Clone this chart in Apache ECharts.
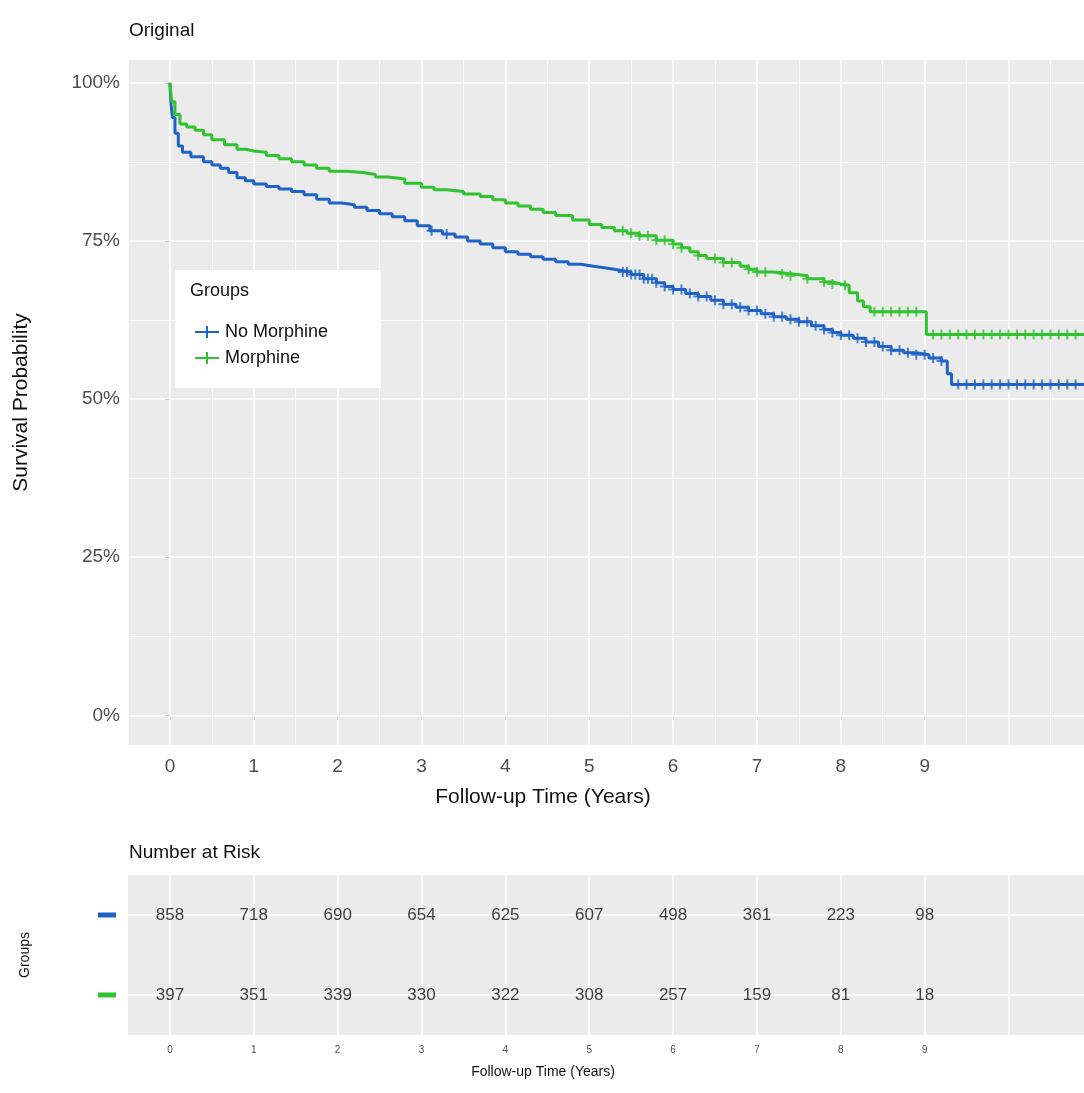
<!DOCTYPE html>
<html>
<head>
<meta charset="utf-8">
<title>Survival</title>
<script src="https://cdn.jsdelivr.net/npm/echarts@6/dist/echarts.min.js"></script>
<style>html,body{margin:0;background:#fff}#chart{width:1084px;height:1093px}</style>
</head>
<body>
<div id="chart"></div>
<script>
// step points: [years, survival %]
var noMorphine = [[0,100],[0.01,97],[0.03,94.5],[0.06,92],[0.1,90],[0.15,89],[0.25,88.3],[0.4,87.5],[0.5,87],[0.6,86.5],[0.7,85.8],[0.8,85],[0.9,84.5],[1,84],[1.15,83.6],[1.3,83.2],[1.45,82.8],[1.6,82.3],[1.75,81.6],[1.9,81],[2.05,80.7],[2.2,80.3],[2.35,79.8],[2.5,79.3],[2.65,78.8],[2.8,78.2],[2.95,77.4],[3.1,76.6],[3.25,76.1],[3.4,75.6],[3.55,75],[3.7,74.5],[3.85,73.9],[4,73.3],[4.15,72.9],[4.3,72.5],[4.45,72.1],[4.6,71.7],[4.75,71.3],[4.9,71],[5.05,70.7],[5.2,70.4],[5.35,70.1],[5.5,69.7],[5.65,69],[5.8,68.4],[5.9,67.8],[6,67.3],[6.15,66.7],[6.3,66.2],[6.45,65.6],[6.6,65],[6.75,64.5],[6.9,64],[7.05,63.5],[7.2,63],[7.35,62.6],[7.5,62.2],[7.65,61.6],[7.8,61],[7.9,60.5],[8,60.1],[8.15,59.6],[8.3,59],[8.45,58.3],[8.6,57.7],[8.75,57.3],[8.9,57],[9.05,56.5],[9.2,56],[9.27,54],[9.32,52.3]];
var morphine = [[0,100],[0.02,97],[0.06,95],[0.12,93.5],[0.2,93],[0.3,92.5],[0.4,91.8],[0.5,91],[0.65,90.2],[0.8,89.5],[0.9,89.2],[1,89],[1.15,88.5],[1.3,88],[1.45,87.5],[1.6,87],[1.75,86.5],[1.9,86],[2.1,85.8],[2.3,85.5],[2.45,85.1],[2.6,84.8],[2.8,84.1],[3,83.5],[3.15,83.1],[3.3,82.8],[3.5,82.4],[3.7,82],[3.85,81.5],[4,81],[4.15,80.5],[4.3,80],[4.45,79.5],[4.6,79],[4.8,78.3],[5,77.6],[5.15,77.1],[5.3,76.6],[5.45,76.2],[5.6,75.8],[5.8,75.1],[6,74.5],[6.1,73.9],[6.2,73.3],[6.3,72.7],[6.4,72.2],[6.6,71.6],[6.8,71],[6.9,70.5],[7,70.1],[7.2,69.8],[7.4,69.5],[7.6,69],[7.8,68.5],[7.9,68.2],[8,68],[8.1,66.8],[8.2,65.5],[8.27,64.6],[8.35,63.8],[9.02,60.2]];
var noMorphineCensor = [3.12,3.3,5.4,5.45,5.5,5.55,5.6,5.65,5.7,5.75,5.8,5.9,6,6.1,6.2,6.3,6.4,6.5,6.6,6.7,6.8,6.9,7,7.1,7.2,7.3,7.4,7.5,7.6,7.7,7.8,7.9,8,8.1,8.2,8.3,8.4,8.5,8.6,8.7,8.8,8.9,9,9.1,9.2,9.4,9.5,9.6,9.7,9.8,9.9,10,10.1,10.2,10.3,10.4,10.5,10.6,10.7,10.8];
var morphineCensor = [5.4,5.5,5.6,5.7,5.8,5.9,6,6.1,6.3,6.5,6.6,6.7,6.9,7,7.1,7.3,7.4,7.6,7.8,7.9,8.05,8.4,8.5,8.6,8.7,8.8,8.9,9.1,9.2,9.3,9.4,9.5,9.6,9.7,9.8,9.9,10,10.1,10.2,10.3,10.4,10.5,10.6,10.7,10.8];
var riskTimes = [0,1,2,3,4,5,6,7,8,9];
var noMorphineRisk = [858,718,690,654,625,607,498,361,223,98];
var morphineRisk = [397,351,339,330,322,308,257,159,81,18];
var yTicks = [0,25,50,75,100];

var blue = '#1f63c6', green = '#2fc32f';
var xMax = 10.9;
function stepAt(pts, t) {
  var v = pts[0][1];
  for (var i = 0; i < pts.length; i++) if (pts[i][0] <= t) v = pts[i][1];
  return v;
}
function extend(pts) { return pts.concat([[xMax, pts[pts.length - 1][1]]]); }
var plus = 'path://M4,0h2v4h4v2h-4v4h-2v-4h-4v-2h4z';
var xs = [], xsMinor = [];
for (var i = 0; i <= 10; i++) xs.push({xAxis: i});
for (var j = -0.5; j <= 10.5; j += 1) xsMinor.push({xAxis: j});
var ysMajor = yTicks.map(function (v) { return {yAxis: v}; });
var ysMinor = [12.5, 37.5, 62.5, 87.5].map(function (v) { return {yAxis: v}; });

var chart = echarts.init(document.getElementById('chart'));
function gridLines(xi, yi, ml, lw) {
  return {type: 'line', xAxisIndex: xi, yAxisIndex: yi, data: [], silent: true, zlevel: 0,
    markLine: {silent: true, symbol: 'none', label: {show: false}, animation: false,
      lineStyle: {color: '#fff', type: 'solid', width: lw}, data: ml}};
}
var riskLabel = {show: true, position: 'inside', formatter: function (p) { return p.value[2]; }, fontSize: 17, color: '#111', fontFamily: 'Liberation Sans'};
chart.setOption({
  animation: false,
  title: [
    {text: 'Original', left: 124, top: 16, textStyle: {fontSize: 19, fontWeight: 'normal', color: '#111', fontFamily: 'Liberation Sans'}},
    {text: 'Number at Risk', left: 124, top: 838, textStyle: {fontSize: 19, fontWeight: 'normal', color: '#111', fontFamily: 'Liberation Sans'}}
  ],
  grid: [
    {left: 128, right: 0, top: 60, height: 685, backgroundColor: '#ebebeb', show: true, borderWidth: 0},
    {left: 128, right: 0, top: 875, height: 160, backgroundColor: '#ebebeb', show: true, borderWidth: 0}
  ],
  xAxis: [
    {gridIndex: 0, type: 'value', min: -0.5, max: xMax, name: 'Follow-up Time (Years)', nameLocation: 'middle', nameGap: 42,
      nameTextStyle: {fontSize: 21, color: '#111', fontFamily: 'Liberation Sans', padding: [0, 126, 0, 0]},
      axisLine: {show: false}, splitLine: {show: false},
      axisTick: {customValues: riskTimes, length: 5, lineStyle: {color: '#333'}},
      axisLabel: {customValues: riskTimes, fontSize: 19, color: '#4d4d4d', margin: 12, fontFamily: 'Liberation Sans'}},
    {gridIndex: 1, type: 'value', min: -0.5, max: xMax, name: 'Follow-up Time (Years)', nameLocation: 'middle', nameGap: 30,
      nameTextStyle: {fontSize: 14, color: '#111', fontFamily: 'Liberation Sans', padding: [0, 126, 0, 0]},
      axisLine: {show: false}, splitLine: {show: false},
      axisTick: {customValues: riskTimes, length: 4, lineStyle: {color: '#333'}},
      axisLabel: {customValues: riskTimes, fontSize: 10, color: '#4d4d4d', margin: 10}}
  ],
  yAxis: [
    {gridIndex: 0, type: 'value', min: -4.7, max: 103.6, name: 'Survival Probability', nameLocation: 'middle', nameGap: 96,
      nameTextStyle: {fontSize: 21, color: '#111', fontFamily: 'Liberation Sans'},
      axisLine: {show: false}, splitLine: {show: false},
      axisTick: {customValues: yTicks, length: 5, lineStyle: {color: '#333'}},
      axisLabel: {customValues: yTicks, formatter: '{value}%', fontSize: 19, color: '#4d4d4d', margin: 8, fontFamily: 'Liberation Sans'}},
    {gridIndex: 1, type: 'category', data: ['Morphine', 'No Morphine'], name: 'Groups', nameLocation: 'middle', nameGap: 96,
      nameTextStyle: {fontSize: 14, color: '#111', fontFamily: 'Liberation Sans'},
      axisLine: {show: false}, axisTick: {show: false}, splitLine: {show: false},
      axisLabel: {margin: 12, formatter: function (v) { return v === 'Morphine' ? '{g|}' : '{b|}'; },
        rich: {b: {backgroundColor: blue, width: 18, height: 5}, g: {backgroundColor: green, width: 18, height: 5}}}}
  ],
  legend: {left: 190, top: 318, orient: 'vertical', itemGap: 8, itemWidth: 26, itemHeight: 12, zlevel: 2,
    textStyle: {fontSize: 18, color: '#111', fontFamily: 'Liberation Sans'},
    data: [{name: 'No Morphine', icon: 'path://M0,5h11v-5h2v5h11v2h-11v5h-2v-5h-11z'}, {name: 'Morphine', icon: 'path://M0,5h11v-5h2v5h11v2h-11v5h-2v-5h-11z'}]},
  graphic: [
    {type: 'rect', zlevel: 1, z: 10, shape: {x: 175, y: 270, width: 206, height: 118}, style: {fill: '#fff'}},
    {type: 'text', zlevel: 2, left: 190, top: 282, style: {text: 'Groups', fontSize: 18, fill: '#111', fontFamily: 'Liberation Sans'}}
  ],
  series: [
    gridLines(0, 0, xsMinor.concat(ysMinor), 0.8),
    gridLines(0, 0, xs.concat(ysMajor), 1.6),
    gridLines(1, 1, xs.concat([{yAxis: 'Morphine'}, {yAxis: 'No Morphine'}]), 1.5),
    {name: 'No Morphine', type: 'line', step: 'end', data: extend(noMorphine), showSymbol: false, zlevel: 1, color: blue, lineStyle: {width: 3, color: blue}},
    {name: 'Morphine', type: 'line', step: 'end', data: extend(morphine), showSymbol: false, zlevel: 1, color: green, lineStyle: {width: 3, color: green}},
    {name: 'No Morphine', type: 'scatter', symbol: plus, symbolSize: 10, itemStyle: {color: blue}, zlevel: 1,
      data: noMorphineCensor.map(function (t) { return [t, stepAt(noMorphine, t)]; })},
    {name: 'Morphine', type: 'scatter', symbol: plus, symbolSize: 10, itemStyle: {color: green}, zlevel: 1,
      data: morphineCensor.map(function (t) { return [t, stepAt(morphine, t)]; })},
    {type: 'scatter', xAxisIndex: 1, yAxisIndex: 1, symbolSize: 0, zlevel: 1, label: riskLabel,
      data: riskTimes.map(function (t, i) { return [t, 'No Morphine', noMorphineRisk[i]]; })},
    {type: 'scatter', xAxisIndex: 1, yAxisIndex: 1, symbolSize: 0, zlevel: 1, label: riskLabel,
      data: riskTimes.map(function (t, i) { return [t, 'Morphine', morphineRisk[i]]; })}
  ]
});
</script>
</body>
</html>
